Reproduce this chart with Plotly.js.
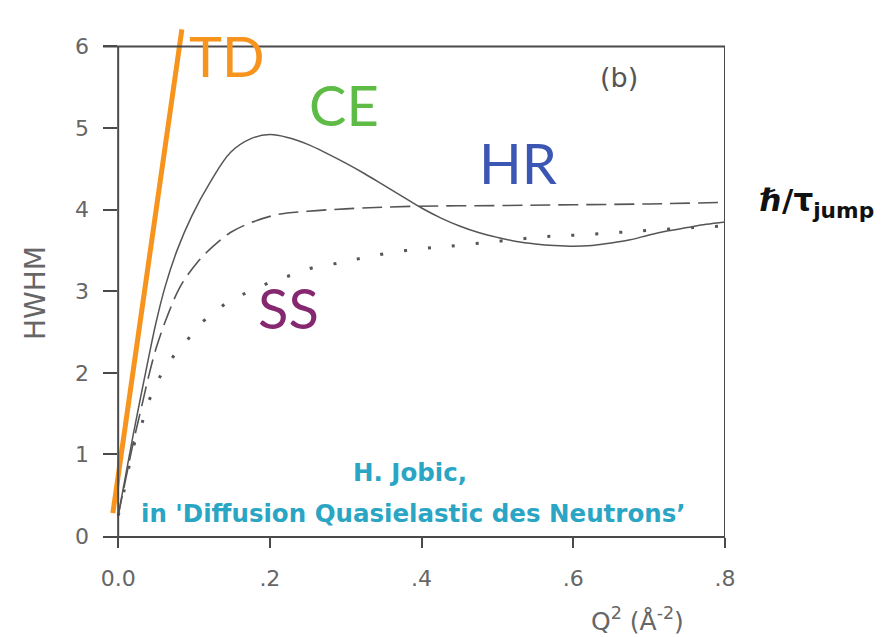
<!DOCTYPE html>
<html>
<head>
<meta charset="utf-8">
<script src="https://cdn.plot.ly/plotly-3.0.1.min.js"></script>
<style>html,body{margin:0;padding:0;background:#fff;}#chart{width:885px;height:637px;}</style>
</head>
<body>
<div id="chart"></div>
<script>
// Q^2 values and HWHM values
const ceX = [0, 0.01, 0.02, 0.03, 0.04, 0.05, 0.062, 0.078, 0.097, 0.121, 0.148, 0.175, 0.2, 0.225, 0.25, 0.275, 0.3, 0.325, 0.35, 0.375, 0.4, 0.425, 0.45, 0.475, 0.5, 0.525, 0.55, 0.575, 0.6, 0.625, 0.65, 0.675, 0.7, 0.725, 0.75, 0.775, 0.8];
const ceY = [0.25, 0.75, 1.25, 1.72, 2.18, 2.62, 3.06, 3.51, 3.92, 4.33, 4.70, 4.87, 4.92, 4.88, 4.80, 4.69, 4.57, 4.44, 4.30, 4.16, 4.02, 3.90, 3.80, 3.72, 3.66, 3.61, 3.58, 3.56, 3.55, 3.56, 3.59, 3.63, 3.69, 3.74, 3.78, 3.82, 3.85];

const hrX = [0, 0.01, 0.02, 0.03, 0.04, 0.05, 0.065, 0.082, 0.104, 0.125, 0.148, 0.175, 0.21, 0.25, 0.3, 0.385, 0.5, 0.6, 0.7, 0.8];
const hrY = [0.25, 0.7, 1.15, 1.55, 1.95, 2.3, 2.7, 3.06, 3.35, 3.55, 3.72, 3.84, 3.94, 3.98, 4.01, 4.04, 4.05, 4.06, 4.07, 4.09];

const ssX = [0, 0.01, 0.02, 0.032, 0.042, 0.055, 0.071, 0.091, 0.105, 0.128, 0.15, 0.174, 0.203, 0.229, 0.257, 0.293, 0.323, 0.358, 0.398, 0.435, 0.477, 0.52, 0.563, 0.609, 0.658, 0.705, 0.758, 0.8];
const ssY = [0.25, 0.65, 1.09, 1.4, 1.69, 1.95, 2.18, 2.4, 2.57, 2.75, 2.9, 3.0, 3.12, 3.2, 3.29, 3.35, 3.41, 3.47, 3.52, 3.55, 3.59, 3.63, 3.67, 3.69, 3.72, 3.75, 3.78, 3.8];

const tdX = [-0.007, 0.084];
const tdY = [0.28, 6.21];

const xTickVals = [0, 0.2, 0.4, 0.6, 0.8];
const xTickText = ["0.0", ".2", ".4", ".6", ".8"];
const yTickVals = [0, 1, 2, 3, 4, 5, 6];
const yTickText = ["0", "1", "2", "3", "4", "5", "6"];

const W = 885, H = 637;
const M = {l: 103, r: 160, t: 22, b: 101};
const PW = W - M.l - M.r, PH = H - M.t - M.b;
function P(px, py) { return {x: (px - M.l) / PW, y: (H - M.b - py) / PH}; }

const gray = '#555';
const axisCol = '#4a4a4a';
const labelFont = '"DejaVu Sans", sans-serif';

const traces = [
  {x: ceX, y: ceY, mode: 'lines', line: {color: gray, width: 1.5, shape: 'spline'}, hoverinfo: 'skip'},
  {x: hrX, y: hrY, mode: 'lines', line: {color: gray, width: 1.6, dash: '20px,8px', shape: 'spline'}, hoverinfo: 'skip'},
  {x: ssX, y: ssY, mode: 'lines', line: {color: gray, width: 3, dash: '3px,21px', shape: 'spline'}, hoverinfo: 'skip'},
  {x: tdX, y: tdY, mode: 'lines', line: {color: '#f7941d', width: 5}, hoverinfo: 'skip'}
];

function ann(px, py, text, size, color, family, extra) {
  const p = P(px, py);
  return Object.assign({xref: 'paper', yref: 'paper', x: p.x, y: p.y, xanchor: 'center', yanchor: 'middle',
    text: text, showarrow: false, font: {size: size, color: color, family: family}}, extra || {});
}

const latin = 'Lato, "Open Sans", sans-serif';
const annotations = [
  ann(227, 55, 'TD', 56, '#f7941d', latin),
  ann(344, 104, 'CE', 56, '#5dbb46', latin),
  ann(518, 162, 'HR', 56, '#3b56b3', latin),
  ann(288, 307, 'SS', 56, '#86286f', latin),
  ann(619, 78, '(b)', 27, gray, labelFont),
  ann(817, 203, '<b><i>ℏ</i>/τ<sub>jump</sub></b>', 31, '#111', labelFont),
  ann(410, 472, '<b>H. Jobic,</b>', 24.5, '#2aa5c4', labelFont),
  ann(413, 513, "<b>in 'Diffusion Quasielastic des Neutrons’</b>", 24.5, '#2aa5c4', labelFont),
  ann(35, 293, 'HWHM', 28, '#666', labelFont, {textangle: -90}),
  ann(637, 619, 'Q<sup>2</sup> (Å<sup>-2</sup>)', 25, '#666', labelFont)
];

const shapes = [
  {type: 'line', xref: 'x', yref: 'y', x0: 0, x1: 0, y0: 0, y1: 6, line: {color: axisCol, width: 2}},
  {type: 'line', xref: 'x', yref: 'y', x0: -0.02, x1: 0.8, y0: 6, y1: 6, line: {color: axisCol, width: 2}},
  {type: 'line', xref: 'x', yref: 'y', x0: 0.8, x1: 0.8, y0: 0, y1: 6, line: {color: axisCol, width: 2}}
];

const layout = {
  width: W, height: H,
  margin: M,
  paper_bgcolor: '#fff', plot_bgcolor: '#fff',
  showlegend: false,
  xaxis: {
    range: [-0.02, 0.8], showgrid: false, zeroline: false,
    showline: true, linecolor: axisCol, linewidth: 2,
    ticks: 'outside', ticklen: 10, tickwidth: 2, tickcolor: axisCol,
    tickvals: xTickVals, ticktext: xTickText,
    ticklabelstandoff: 12,
    tickfont: {size: 22, color: '#666', family: labelFont}
  },
  yaxis: {
    range: [0, 6.3], showgrid: false, zeroline: false,
    showline: false,
    ticks: 'inside', ticklen: 14, tickwidth: 2, tickcolor: axisCol,
    tickvals: yTickVals, ticktext: yTickText,
    ticklabelstandoff: 13,
    tickfont: {size: 22, color: '#666', family: labelFont}
  },
  shapes: shapes,
  annotations: annotations
};

Plotly.newPlot('chart', traces, layout, {staticPlot: true, displayModeBar: false});
</script>
</body>
</html>
